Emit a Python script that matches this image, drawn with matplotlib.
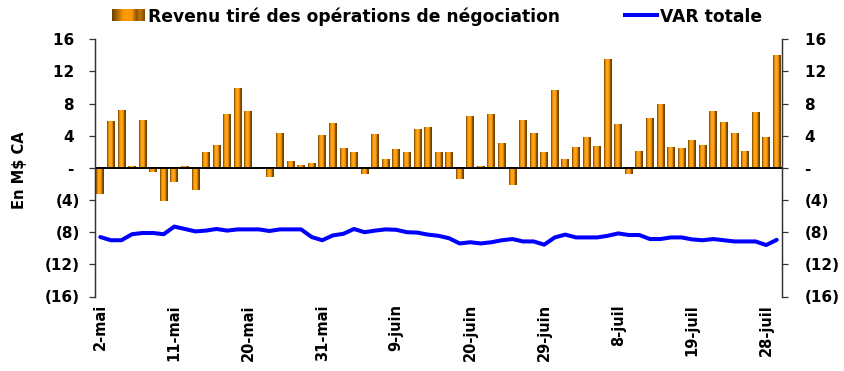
import numpy as np
import matplotlib
matplotlib.use("Agg")
import matplotlib.pyplot as plt
from matplotlib.colors import LinearSegmentedColormap
from matplotlib.lines import Line2D
from matplotlib.ticker import FuncFormatter

# Daily trading revenue (C$ millions), one value per business day; NaN = holiday
revenue = [
    -3.2, 5.8, 7.25, 0.25, 5.9, -0.45, -4.1, -1.8, 0.25, -2.8,
    2.0, 2.9, 6.75, 9.9, 7.1, np.nan, -1.1, 4.4, 0.9, 0.4,
    0.6, 4.1, 5.6, 2.5, 2.0, -0.8, 4.25, 1.1, 2.4, 2.0,
    4.9, 5.1, 2.0, 2.0, -1.35, 6.5, 0.25, 6.75, 3.1, -2.1,
    5.9, 4.4, 2.0, 9.75, 1.1, 2.6, 3.9, 2.75, 13.5, 5.4,
    -0.8, 2.1, 6.25, 8.0, 2.6, 2.5, 3.5, 2.9, 7.1, 5.75,
    4.4, 2.1, 7.0, 3.9, 14.0,
]

# Total VaR (C$ millions)
var_total = [
    -8.6, -9.0, -9.0, -8.25, -8.1, -8.1, -8.25, -7.3, -7.6, -7.9,
    -7.8, -7.6, -7.8, -7.65, -7.65, -7.65, -7.85, -7.65, -7.65, -7.65,
    -8.6, -9.0, -8.4, -8.2, -7.6, -8.0, -7.8, -7.65, -7.7, -8.0,
    -8.05, -8.3, -8.45, -8.75, -9.4, -9.25, -9.4, -9.25, -9.0, -8.85,
    -9.15, -9.15, -9.55, -8.65, -8.3, -8.65, -8.65, -8.65, -8.45, -8.15,
    -8.35, -8.35, -8.85, -8.85, -8.65, -8.65, -8.9, -9.0, -8.85, -9.0,
    -9.15, -9.15, -9.15, -9.6, -8.95,
]

tick_labels = ["2-mai", "11-mai", "20-mai", "31-mai", "9-juin",
               "20-juin", "29-juin", "8-juil", "19-juil", "28-juil"]
tick_step = 7
y_ticks = [16, 12, 8, 4, 0, -4, -8, -12, -16]

plt.rcParams["font.family"] = ["DejaVu Sans"]
plt.rcParams["font.weight"] = "bold"

fig = plt.figure(figsize=(8.45, 3.71), dpi=100)
ax = fig.add_axes([95 / 845, 1 - 296.5 / 371, 687 / 845, 257.2 / 371])

# cylinder-like shading across each bar
shade = LinearSegmentedColormap.from_list("cyl", [
    (0.00, "#6a4000"), (0.10, "#b56c00"), (0.22, "#ff9900"),
    (0.45, "#ffab2e"), (0.60, "#ff9900"), (0.72, "#e08600"),
    (0.80, "#7d4d00"), (1.00, "#6a4000")])
grad = np.linspace(0, 1, 64).reshape(1, -1)

x = np.arange(len(revenue))
bars = ax.bar(x, np.nan_to_num(revenue), width=0.73, color="#ff9900",
              linewidth=0, zorder=2)
for b, v in zip(bars, revenue):
    if np.isnan(v) or b.get_height() == 0:
        continue
    x0 = b.get_x()
    y0, y1 = sorted([0, b.get_height()])
    im = ax.imshow(grad, cmap=shade, extent=[x0, x0 + b.get_width(), y0, y1],
                   aspect="auto", zorder=3, interpolation="bilinear")
    im.set_clip_path(b)

ax.plot(x, var_total, color="#0000ff", lw=2.9, zorder=4,
        solid_joinstyle="round", solid_capstyle="round")

ax.axhline(0, color="black", lw=1.4, zorder=5)

ax.set_xlim(-0.5, len(revenue) - 0.5)
ax.set_ylim(-16, 16)


def paren(v, pos):
    v = int(round(v))
    if v == 0:
        return "- "
    return f"({abs(v)})" if v < 0 else f"{v} "


# right-hand copy of the value axis
axr = ax.twinx()
axr.set_ylim(ax.get_ylim())

for a in (ax, axr):
    for s in ["top", "bottom"]:
        a.spines[s].set_visible(False)
    for s in ["left", "right"]:
        a.spines[s].set_color("#333333")
        a.spines[s].set_linewidth(0.9)
    a.set_yticks(y_ticks)
    a.yaxis.set_major_formatter(FuncFormatter(paren))

ax.tick_params(axis="y", direction="out", length=4, width=0.9,
               color="#333333", labelsize=11, pad=6.8)
axr.tick_params(axis="y", direction="out", length=4, width=0.9,
                color="#333333", labelsize=11, pad=12.6)

ax.set_xticks(np.arange(0, len(revenue), tick_step)[:len(tick_labels)])
ax.set_xticklabels(tick_labels, rotation=90, fontsize=10.5, fontweight="bold")
ax.tick_params(axis="x", length=0, pad=0)
for lbl in ax.get_xticklabels():
    lbl.set_y(-0.03)

ax.set_ylabel("En M$ CA", fontsize=10.5, fontweight="bold")
ax.yaxis.set_label_coords(-0.099, 0.49)

# legend row
lax = fig.add_axes([112 / 845, 1 - 21 / 371, 33 / 845, 12 / 371])
lax.imshow(grad, cmap=LinearSegmentedColormap.from_list("lg", [
    (0.0, "#6a4000"), (0.35, "#ff9900"), (0.6, "#ff9900"),
    (0.75, "#8a5500"), (0.85, "#c27400"), (1.0, "#7d4d00")]),
    aspect="auto", extent=[0, 1, 0, 1])
lax.axis("off")
base = 1 - 22.5 / 371
fig.text(148 / 845, base, "Revenu tiré des opérations de négociation",
         fontsize=12.3, fontweight="bold", va="baseline", ha="left")
fig.add_artist(Line2D([625 / 845, 657 / 845], [1 - 15 / 371, 1 - 15 / 371],
                      color="#0000ff", lw=2.9, transform=fig.transFigure))
fig.text(660 / 845, base, "VAR totale",
         fontsize=12.3, fontweight="bold", va="baseline", ha="left")

fig.savefig("out.png", dpi=100)
